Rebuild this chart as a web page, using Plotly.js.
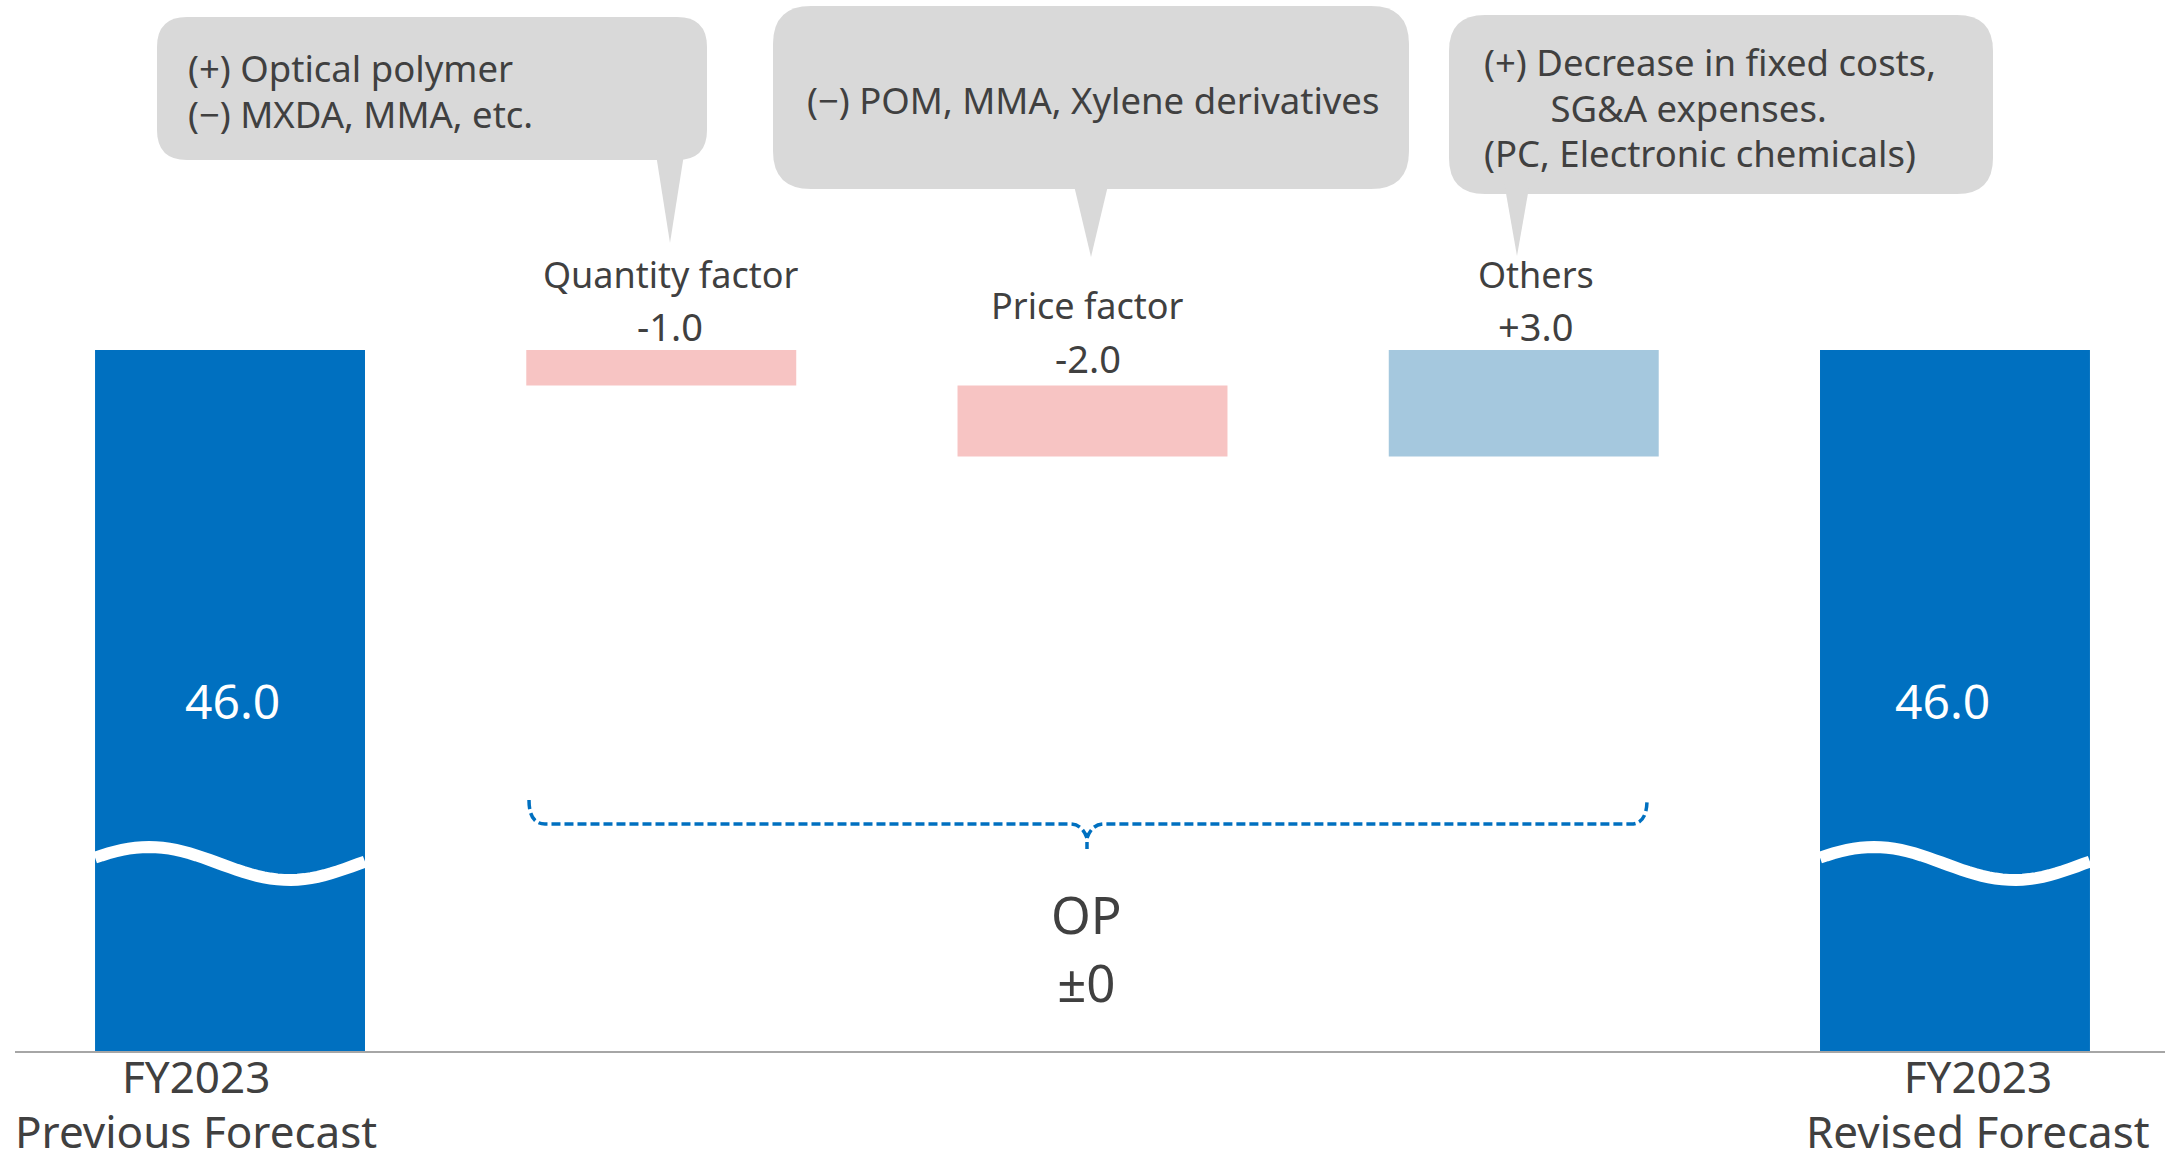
<!DOCTYPE html>
<html><head><meta charset="utf-8">
<script src="https://cdn.plot.ly/plotly-3.0.1.min.js"></script>
<style>html,body{margin:0;padding:0;background:#fff;overflow:hidden}#chart{width:2165px;height:1163px}</style>
</head><body><div id="chart"></div>
<script>
// ---------------- data ----------------
const categories = ['FY2023 Previous Forecast', 'Quantity factor', 'Price factor', 'Others', 'FY2023 Revised Forecast'];
const axisLabelLines = [['FY2023', 'Previous Forecast'], null, null, null, ['FY2023', 'Revised Forecast']];
const measures = ['absolute', 'relative', 'relative', 'relative', 'total'];
const values = [46.0, -1.0, -2.0, 3.0, 46.0];
const calloutLines = [
  ['(+) Optical polymer', '(−) MXDA, MMA, etc.'],
  ['(−) POM, MMA, Xylene derivatives'],
  ['(+) Decrease in fixed costs,', 'SG&amp;A expenses.', '(PC, Electronic chemicals)']
];
const summaryLines = ['OP', '±0'];

// ---------------- styles / layout geometry ----------------
const FONT = 'Noto Sans, Open Sans, sans-serif';
const TXT = '#404040';
const C_TOTAL = '#0070C0', C_DEC = '#F7C4C3', C_INC = '#A5C8DE';
const FIG_W = 2165, FIG_H = 1163;
const M = {l: 15, r: 0, t: 0, b: 112};
const PW = FIG_W - M.l - M.r, PH = FIG_H - M.t - M.b;
const fx = x => (x - M.l) / PW;
const fy = y => 1 - (y - M.t) / PH;
const BAR_W = 0.626;
const X_RANGE = [-0.4986, 4.487];
const Y_RANGE = [26.254, 55.859];
const labelXShift = [2, 9, -5, 12, -12];
const nameYShift = [0, 76, 80, 76, 0];
const valueYShift = [0, 24, 28, 24, 0];
const axisLabelXShift = [-34, 0, 0, 0, 23];

const xs = categories.map((_, i) => i);

// multi-line text: glyph size set per line, line pitch = 1.3 * base font size
function block(lines, glyphPx, indents) {
  return lines.map((l, k) => '<span style="font-size:' + glyphPx + 'px">' +
    '\u00a0'.repeat(indents ? indents[k] : 0) + l + '</span>').join('<br>');
}
const basePx = pitch => pitch / 1.3;

// running totals for label placement
let run = 0;
const tops = [];
values.forEach((v, i) => {
  if (measures[i] === 'absolute') { run = v; tops.push(v); }
  else if (measures[i] === 'total') { tops.push(run); }
  else { const s = run; run += v; tops.push(Math.max(s, run)); }
});

const trace = {
  type: 'waterfall',
  x: xs,
  y: values,
  measure: measures,
  width: BAR_W,
  textinfo: 'none',
  hoverinfo: 'skip',
  connector: {visible: false},
  totals: {marker: {color: C_TOTAL, line: {width: 0}}},
  increasing: {marker: {color: C_INC, line: {width: 0}}},
  decreasing: {marker: {color: C_DEC, line: {width: 0}}}
};

const annotations = [];
const shapes = [];

function fmt(v) { return (v > 0 ? '+' : v < 0 ? '-' : '±') + Math.abs(v).toFixed(1); }

xs.forEach((x, i) => {
  if (measures[i] === 'relative') {
    annotations.push({x: x, y: tops[i], xref: 'x', yref: 'y', text: categories[i], showarrow: false,
      xanchor: 'center', yanchor: 'middle', yshift: nameYShift[i], xshift: labelXShift[i],
      font: {family: FONT, size: 36, color: TXT}});
    annotations.push({x: x, y: tops[i], xref: 'x', yref: 'y', text: fmt(values[i]), showarrow: false,
      xanchor: 'center', yanchor: 'middle', yshift: valueYShift[i], xshift: labelXShift[i],
      font: {family: FONT, size: 38, color: TXT}});
  } else {
    annotations.push({x: x, y: (Y_RANGE[0] + tops[i]) / 2, xref: 'x', yref: 'y', text: tops[i].toFixed(1),
      showarrow: false, xanchor: 'center', yanchor: 'middle', xshift: labelXShift[i],
      font: {family: FONT, size: 48, color: '#ffffff'}});
    annotations.push({x: x, y: fy(1103), xref: 'x', yref: 'paper',
      text: block(axisLabelLines[i], 44), showarrow: false, align: 'center',
      xanchor: 'center', yanchor: 'middle', xshift: axisLabelXShift[i],
      font: {family: FONT, size: basePx(55), color: TXT}});
    // break (wave) mark across the shortened total bar
    let p = '';
    for (let k = 0; k <= 40; k++) {
      const t = k / 40;
      const X = x - BAR_W / 2 + t * BAR_W;
      const Yp = 863.5 - 16.5 * Math.cos(2 * Math.PI * (t - 0.2) / 1.04);
      p += (k === 0 ? 'M ' : ' L ') + X.toFixed(4) + ',' + fy(Yp).toFixed(5);
    }
    shapes.push({type: 'path', xref: 'x', yref: 'paper', path: p, line: {color: '#ffffff', width: 12}, layer: 'above'});
  }
});

// summary text
annotations.push({x: 2, y: fy(948), xref: 'x', yref: 'paper', text: block(summaryLines, 51), showarrow: false,
  align: 'center', xanchor: 'center', yanchor: 'middle', xshift: -6,
  font: {family: FONT, size: basePx(68), color: TXT}});

// dashed brace
(function () {
  const P = (x, y) => fx(x).toFixed(5) + ',' + fy(y).toFixed(5);
  const path = 'M ' + P(529, 800) + ' Q ' + P(529, 824) + ' ' + P(545, 824) +
    ' L ' + P(1070, 824) + ' Q ' + P(1082, 824) + ' ' + P(1087, 838) + ' L ' + P(1087, 849) +
    ' M ' + P(1087, 838) + ' Q ' + P(1092, 824) + ' ' + P(1104, 824) +
    ' L ' + P(1631, 824) + ' Q ' + P(1647, 824) + ' ' + P(1647, 800);
  shapes.push({type: 'path', xref: 'paper', yref: 'paper', path: path,
    line: {color: C_TOTAL, width: 3.5, dash: '9px,4px'}, layer: 'above'});
})();

// callouts
const calloutGeom = [
  {x0: 157, x1: 707, y0: 17, y1: 160, r: 30, tail: [655, 685, 670, 243], tx: 186, ty: 90.5, pitch: 45.6, indents: [0, 0]},
  {x0: 773, x1: 1409, y0: 6, y1: 189, r: 38, tail: [1072, 1110, 1091, 257], tx: 805, ty: 100, pitch: 45.6, indents: [0]},
  {x0: 1449, x1: 1993, y0: 15, y1: 194, r: 36, tail: [1504, 1530, 1517, 256], tx: 1482, ty: 107.5, pitch: 45.6, indents: [0, 7, 0]}
];
calloutGeom.forEach((g, i) => {
  const P = (x, y) => fx(x).toFixed(5) + ',' + fy(y).toFixed(5);
  const r = g.r;
  const box = 'M ' + P(g.x0 + r, g.y0) + ' L ' + P(g.x1 - r, g.y0) + ' Q ' + P(g.x1, g.y0) + ' ' + P(g.x1, g.y0 + r) +
    ' L ' + P(g.x1, g.y1 - r) + ' Q ' + P(g.x1, g.y1) + ' ' + P(g.x1 - r, g.y1) +
    ' L ' + P(g.x0 + r, g.y1) + ' Q ' + P(g.x0, g.y1) + ' ' + P(g.x0, g.y1 - r) +
    ' L ' + P(g.x0, g.y0 + r) + ' Q ' + P(g.x0, g.y0) + ' ' + P(g.x0 + r, g.y0) + ' Z';
  shapes.push({type: 'path', xref: 'paper', yref: 'paper', path: box, fillcolor: '#D9D9D9', line: {width: 0}, layer: 'above'});
  const t = g.tail;
  const tail = 'M ' + P(t[0], g.y1 - 12) + ' L ' + P(t[1], g.y1 - 12) + ' L ' + P(t[2], t[3]) + ' Z';
  shapes.push({type: 'path', xref: 'paper', yref: 'paper', path: tail, fillcolor: '#D9D9D9', line: {width: 0}, layer: 'above'});
  annotations.push({x: fx(g.tx), y: fy(g.ty), xref: 'paper', yref: 'paper',
    text: block(calloutLines[i], 36.5, g.indents), showarrow: false, align: 'left',
    xanchor: 'left', yanchor: 'middle', font: {family: FONT, size: basePx(g.pitch), color: TXT}});
});

const layout = {
  width: FIG_W, height: FIG_H,
  margin: M,
  paper_bgcolor: '#ffffff', plot_bgcolor: '#ffffff',
  showlegend: false,
  hovermode: false,
  xaxis: {type: 'linear', range: X_RANGE, showgrid: false, zeroline: false, showticklabels: false,
    ticks: '', showline: true, linecolor: '#A6A6A6', linewidth: 2, fixedrange: true},
  yaxis: {range: Y_RANGE, showgrid: false, zeroline: false, showticklabels: false, ticks: '',
    showline: false, fixedrange: true},
  annotations: annotations,
  shapes: shapes
};

Plotly.newPlot('chart', [trace], layout, {staticPlot: true, displayModeBar: false});
</script>
</body></html>
